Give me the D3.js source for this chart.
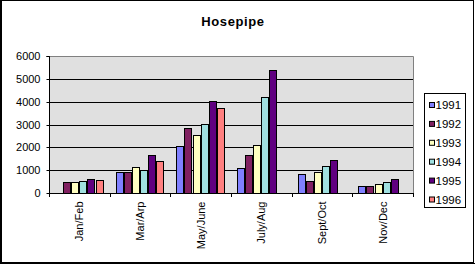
<!DOCTYPE html>
<html><head><meta charset="utf-8">
<script src="https://cdn.jsdelivr.net/npm/d3@7"></script>
<style>html,body{margin:0;padding:0;background:#fff;}svg{display:block;}</style>
</head><body>
<svg id="c" width="475" height="264"></svg>
<script>
const categories = ["Jan/Feb","Mar/Arp","May/June","July/Aug","Sept/Oct","Nov/Dec"];
const years = ["1991","1992","1993","1994","1995","1996"];
const s1991 = [null, 930, 2070, 1100, 840, 320];
const s1992 = [480, 930, 2850, 1670, 540, 320];
const s1993 = [480, 1150, 2530, 2100, 930, 410];
const s1994 = [540, 1020, 3030, 4210, 1190, 500];
const s1995 = [620, 1670, 4030, 5390, 1450, 620];
const s1996 = [580, 1410, 3730, null, null, null];
const yTicks = [0,1000,2000,3000,4000,5000,6000];
const colors = ["#8080FF","#802060","#FFFFC0","#A0E0E0","#600080","#FF8080"];
const series = [s1991,s1992,s1993,s1994,s1995,s1996];

const svg = d3.select("#c");
const font = "'Liberation Sans', Arial, sans-serif";
const L=49, R=413, T=56, B=193;

// outer frame
svg.append("rect").attr("x",0.5).attr("y",0.5).attr("width",473).attr("height",262).attr("fill","none").attr("stroke","#000").attr("stroke-width",1);
svg.append("line").attr("x1",1.5).attr("x2",1.5).attr("y1",0).attr("y2",264).attr("stroke","#000");
svg.append("line").attr("x1",0).attr("x2",475).attr("y1",263.5).attr("y2",263.5).attr("stroke","#000");

const x0 = d3.scaleBand().domain(categories).range([L,R]).padding(0);
const x1 = d3.scaleBand().domain(years).range([0,x0.bandwidth()]).paddingInner(0).paddingOuter(0.75);
const y = d3.scaleLinear().domain([0,6000]).range([B,T]);

// plot bg
svg.append("rect").attr("x",L).attr("y",T).attr("width",R-L).attr("height",B-T).attr("fill","#E0E0E0");
// gridlines
svg.append("g").selectAll("line").data(yTicks.filter(v=>v>0 && v<6000)).join("line")
  .attr("x1",L).attr("x2",R).attr("y1",d=>Math.round(y(d))+0.5).attr("y2",d=>Math.round(y(d))+0.5)
  .attr("stroke","#000").attr("stroke-width",1);
// plot border top/right gray
svg.append("path").attr("d",`M${L},${T+0.5}H${R+0.5}V${B}`).attr("fill","none").attr("stroke","#808080");

// bars
const rows = [];
categories.forEach((c,i)=>years.forEach((yr,j)=>{ const v=series[j][i]; if(v!=null) rows.push({c,yr,v,col:colors[j]}); }));
svg.append("g").selectAll("rect").data(rows).join("rect")
  .attr("x",d=>Math.round(x0(d.c)+x1(d.yr))+0.5)
  .attr("y",d=>Math.round(y(d.v))+0.5)
  .attr("width",d=>Math.round(x1.bandwidth())-1)
  .attr("height",d=>Math.round(B)-Math.round(y(d.v)))
  .attr("fill",d=>d.col).attr("stroke","#000").attr("stroke-width",1);

// y axis
const ya = svg.append("g").attr("transform",`translate(${L+0.5},0.5)`)
  .call(d3.axisLeft(y).tickValues(yTicks).tickSize(3).tickPadding(6).tickFormat(d3.format("d")));
ya.select(".domain").attr("stroke","#000").attr("d",`M-3,${T}H0V${B}`);
ya.selectAll(".tick line").attr("stroke","#000");
ya.selectAll(".tick").attr("transform",d=>`translate(0,${Math.round(y(d))})`);
ya.selectAll("text").attr("font-family",font).attr("font-size","11px").attr("fill","#000");

// x axis
const xa = svg.append("g").attr("transform",`translate(0,${B+0.5})`)
  .call(d3.axisBottom(x0).tickSize(0).tickPadding(0));
xa.select(".domain").remove();
xa.append("line").attr("x1",L).attr("x2",R+1).attr("y1",0).attr("y2",0).attr("stroke","#000");
xa.selectAll(".sep").data(d3.range(categories.length+1)).join("line")
  .attr("x1",i=>Math.round(L+i*x0.step())+0.5).attr("x2",i=>Math.round(L+i*x0.step())+0.5)
  .attr("y1",0).attr("y2",3.5).attr("stroke","#000");
xa.selectAll(".tick text").attr("font-family",font).attr("font-size","11px").attr("fill","#000")
  .attr("transform","rotate(-90)").attr("text-anchor","end").attr("x",-8).attr("y",0).attr("dy","0.35em");

// title
svg.append("text").attr("x",233).attr("y",26).attr("text-anchor","middle")
  .attr("font-family",font).attr("font-weight","bold").attr("font-size","13px").attr("letter-spacing","0.6px").text("Hosepipe");

// legend
svg.append("rect").attr("x",424.5).attr("y",93.5).attr("width",41).attr("height",114).attr("fill","#fff").attr("stroke","#000");
const lg = svg.append("g").selectAll("g").data(years).join("g")
  .attr("transform",(d,i)=>`translate(429,${105+i*18.9})`);
lg.append("rect").attr("x",0.5).attr("y",-2.5).attr("width",5).attr("height",5).attr("fill",(d,i)=>colors[i]).attr("stroke","#000");
lg.append("text").attr("x",6.5).attr("y",0).attr("dy","0.36em").attr("font-family",font).attr("font-size","11.5px").text(d=>d);
</script>
</body></html>
